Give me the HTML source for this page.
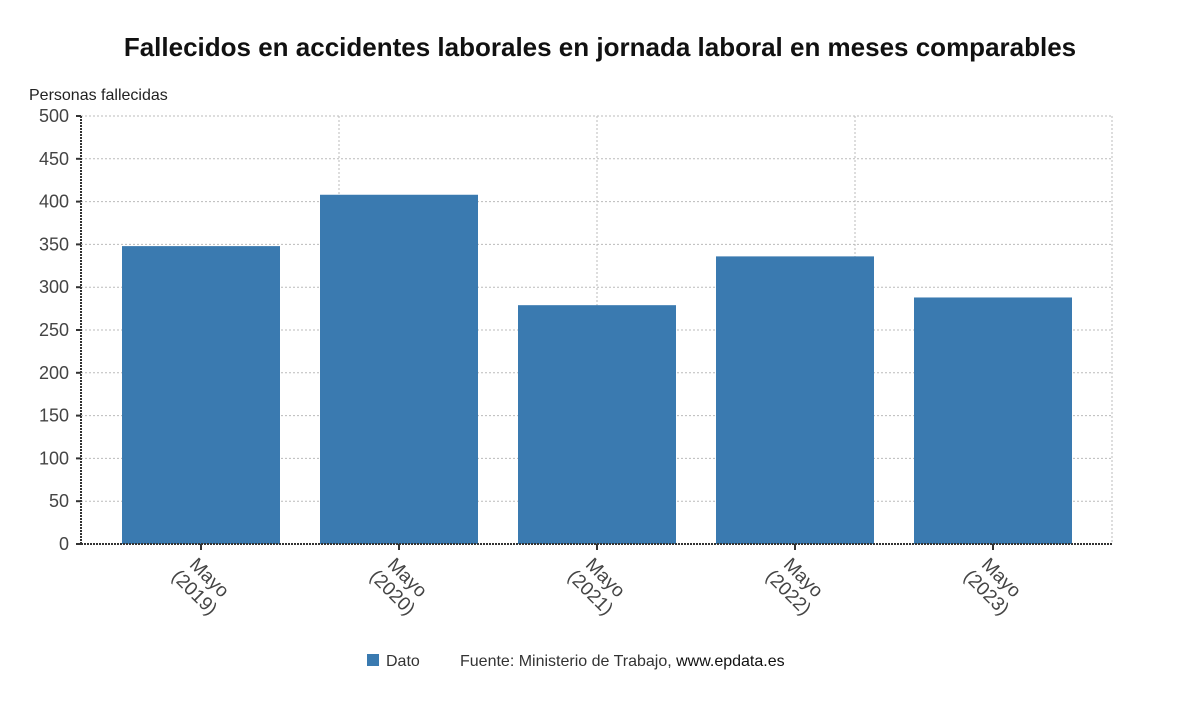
<!DOCTYPE html>
<html><head><meta charset="utf-8"><style>
body{margin:0;background:#fff;}
svg{display:block;font-family:"Liberation Sans",sans-serif;}
</style></head><body>
<svg id="chart" width="1200" height="705" viewBox="0 0 1200 705" xmlns="http://www.w3.org/2000/svg">
<text x="600" y="56" text-anchor="middle" font-size="26" font-weight="bold" fill="#111">Fallecidos en accidentes laborales en jornada laboral en meses comparables</text>
<text x="29" y="100" font-size="16" fill="#222">Personas fallecidas</text>
<g id="grid"></g><g id="bars"></g><g id="axes"></g>
<g>
<rect x="367" y="654" width="12" height="12" fill="#3a7ab0"/>
<text x="386" y="666" font-size="16" fill="#333">Dato</text>
<text x="460" y="666" font-size="16" fill="#333">Fuente: Ministerio de Trabajo, <tspan fill="#111">www.epdata.es</tspan></text>
</g>
</svg>
<script>
const categories=["2019","2020","2021","2022","2023"];
const values=[348,408,279,336,288];
const yTicks=[0,50,100,150,200,250,300,350,400,450,500];
const NS="http://www.w3.org/2000/svg";
const X0=81,X1=1112,Y0=544,Y1=116,YMAX=500;
const step=198,firstOffset=120;
function y(v){return Y0-(v/YMAX)*(Y0-Y1);}
function xc(i){return X0+firstOffset+step*i;}
function mk(tag,attrs,parent){const e=document.createElementNS(NS,tag);for(const k in attrs)e.setAttribute(k,attrs[k]);document.getElementById(parent).appendChild(e);return e;}
yTicks.forEach(t=>{
  if(t>0){const g=mk('line',{x1:X0,x2:X1,y1:y(t),y2:y(t),stroke:'#bbb','stroke-dasharray':'2,2'},'grid');
  
  }
  const tk=mk('line',{x1:X0-5,x2:X0,y1:y(t),y2:y(t),stroke:'#333','stroke-width':2},'axes');
  
  
  const lb=mk('text',{x:X0-12,y:y(t)+6,'text-anchor':'end','font-size':18,fill:'#444'},'axes');
  lb.textContent=t;
  
  
});
[339,597,855,X1].forEach(gx=>{
  const g=mk('line',{x1:gx,x2:gx,y1:Y1,y2:Y0,stroke:'#bbb','stroke-dasharray':'2,2'},'grid');
  
  
});
const bw=158;
categories.forEach((c,i)=>{
  const b=mk('rect',{x:xc(i)-bw/2,y:y(values[i]),width:bw,height:Y0-y(values[i]),fill:'#3a7ab0'},'bars');
  
  
  const tk=mk('line',{x1:xc(i),x2:xc(i),y1:Y0,y2:Y0+6,stroke:'#333','stroke-width':2},'axes');
  
  
  const cx=xc(i)+4,cy=Y0+38;
  const t=mk('text',{'font-size':19,fill:'#444','text-anchor':'middle',transform:`translate(${cx},${cy}) rotate(45)`},'axes');
  
  
  const s1=document.createElementNS(NS,'tspan');s1.setAttribute('x',0);s1.setAttribute('y',0);s1.textContent='Mayo';t.appendChild(s1);
  const s2=document.createElementNS(NS,'tspan');s2.setAttribute('x',0);s2.setAttribute('y',21);s2.textContent='('+c+')';t.appendChild(s2);
});
const ya=mk('line',{x1:X0,x2:X0,y1:Y1,y2:Y0,stroke:'#333','stroke-width':2,'stroke-dasharray':'2,1'},'axes');


const xa=mk('line',{x1:X0,x2:X1,y1:Y0,y2:Y0,stroke:'#333','stroke-width':2,'stroke-dasharray':'2,1'},'axes');


</script>
</body></html>
